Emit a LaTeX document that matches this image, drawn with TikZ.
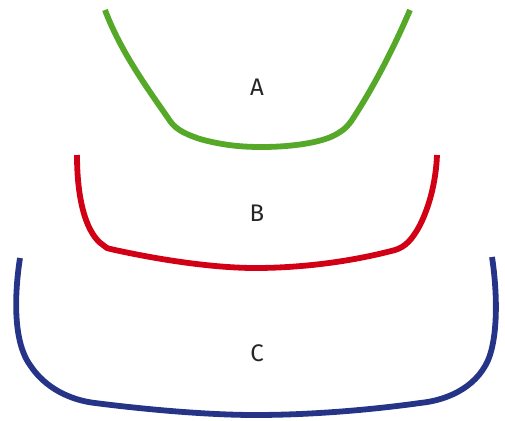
\documentclass[tikz,border=0pt]{standalone}
\usepackage{fontspec}
\setmainfont{Fira Sans}
\definecolor{cgreen}{RGB}{85,168,40}
\definecolor{cred}{RGB}{210,0,20}
\definecolor{cblue}{RGB}{38,52,135}
\begin{document}
\begin{tikzpicture}[x=1pt,y=-1pt,
  curve/.style={line width=5.8pt,line cap=butt},
  lab/.style={font=\fontsize{24}{26}\selectfont,text=black!85,inner sep=0pt}]
\useasboundingbox (0,0) rectangle (505,420);
% A
\draw[curve,cgreen] (105,10) .. controls (120,50) and (145,85) .. (168,118)
  .. controls (174,128) and (182,133) .. (200,139)
  .. controls (225,146) and (245,147) .. (262,147)
  .. controls (290,147) and (320,143) .. (335,135)
  .. controls (344,130) and (348,126) .. (352,120)
  .. controls (375,85) and (395,45) .. (410,10);
% B
\draw[curve,cred] (77,155) .. controls (77,205) and (88,235) .. (103,245)
  .. controls (106,248) .. (115,250)
  .. controls (170,262) and (220,268) .. (255,268)
  .. controls (300,268) and (350,262) .. (395,250)
  .. controls (405,247) and (412,240) .. (420,225)
  .. controls (430,205) and (436,180) .. (437,155);
% C
\draw[curve,cblue] (20,258) .. controls (15,290) and (12,340) .. (30,365)
  .. controls (45,388) and (70,400) .. (95,403)
  .. controls (150,410) and (210,415) .. (255,415)
  .. controls (310,415) and (370,410) .. (420,403)
  .. controls (450,400) and (480,385) .. (490,355)
  .. controls (498,330) and (497,290) .. (492,257);
\node[lab] (la) at (257,87) {A};
\node[lab] (lb) at (257,213) {B};
\node[lab] (lc) at (257,353) {C};
\end{tikzpicture}
\end{document}
